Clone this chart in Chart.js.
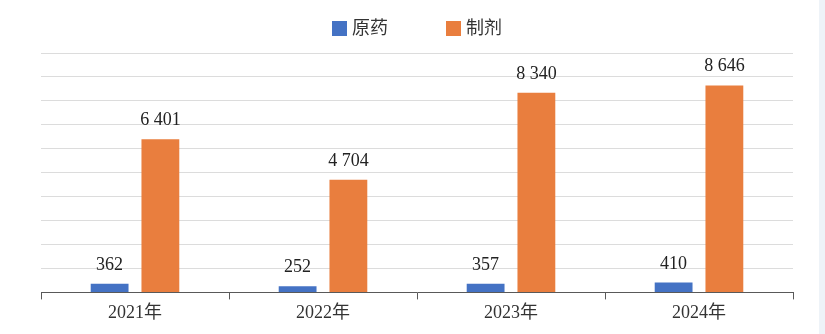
<!DOCTYPE html>
<html>
<head>
<meta charset="utf-8">
<script src="https://cdn.jsdelivr.net/npm/chart.js@4/dist/chart.umd.min.js"></script>
<style>
  html, body { margin: 0; padding: 0; background: #eef3f8; }
  #wrap { width: 819px; height: 334px; background: #ffffff; }
</style>
</head>
<body>
<div id="wrap"><canvas id="c" width="819" height="334"></canvas></div>
<script>
const categories = ['2021年', '2022年', '2023年', '2024年'];
const seriesNames = ['原药', '制剂'];
const apiValues = [362, 252, 357, 410];
const formulationValues = [6401, 4704, 8340, 8646];
const yMax = 10000;
const yStep = 1000;

const FONT = '"Liberation Serif", "Times New Roman", "Noto Sans CJK SC", serif';
const fmt = v => String(v).replace(/\B(?=(\d{3})+(?!\d))/g, ' ');

// value labels above each bar
const valueLabels = {
  id: 'valueLabels',
  afterDatasetsDraw(chart) {
    const ctx = chart.ctx;
    ctx.save();
    ctx.font = '18px ' + FONT;
    ctx.fillStyle = '#222';
    ctx.textAlign = 'center';
    ctx.textBaseline = 'alphabetic';
    chart.data.datasets.forEach((ds, i) => {
      chart.getDatasetMeta(i).data.forEach((bar, j) => {
        ctx.fillText(fmt(ds.data[j]), bar.x, bar.y - 14);
      });
    });
    ctx.restore();
  }
};

// legend row at the top
const topLegend = {
  id: 'topLegend',
  afterDraw(chart) {
    const ctx = chart.ctx;
    ctx.save();
    ctx.font = '18px ' + FONT;
    ctx.textBaseline = 'middle';
    ctx.textAlign = 'left';
    const xs = [332, 446];
    chart.data.datasets.forEach((ds, i) => {
      ctx.fillStyle = ds.backgroundColor;
      ctx.fillRect(xs[i], 21, 15, 15);
      ctx.fillStyle = '#333';
      ctx.fillText(ds.label, xs[i] + 20, 29);
    });
    ctx.restore();
  }
};

new Chart(document.getElementById('c'), {
  type: 'bar',
  data: {
    labels: categories,
    datasets: [
      { label: seriesNames[0], data: apiValues, backgroundColor: '#4472C4' },
      { label: seriesNames[1], data: formulationValues, backgroundColor: '#E97E3E' }
    ]
  },
  options: {
    responsive: false,
    animation: false,
    layout: { padding: { top: 53, left: 41, right: 26, bottom: 7 } },
    categoryPercentage: 0.54,
    barPercentage: 0.745,
    plugins: { legend: { display: false }, tooltip: { enabled: false } },
    scales: {
      x: {
        grid: { display: true, drawOnChartArea: false, drawTicks: true, tickLength: 7, color: '#595959', offset: true },
        border: { display: true, color: '#595959', width: 1 },
        ticks: { color: '#333', font: { family: FONT, size: 18 }, padding: 3 }
      },
      y: {
        min: 0, max: yMax,
        ticks: { display: false, stepSize: yStep },
        grid: { color: '#dcdcdc', drawTicks: false },
        border: { display: false }
      }
    }
  },
  plugins: [valueLabels, topLegend]
});
</script>
</body>
</html>
